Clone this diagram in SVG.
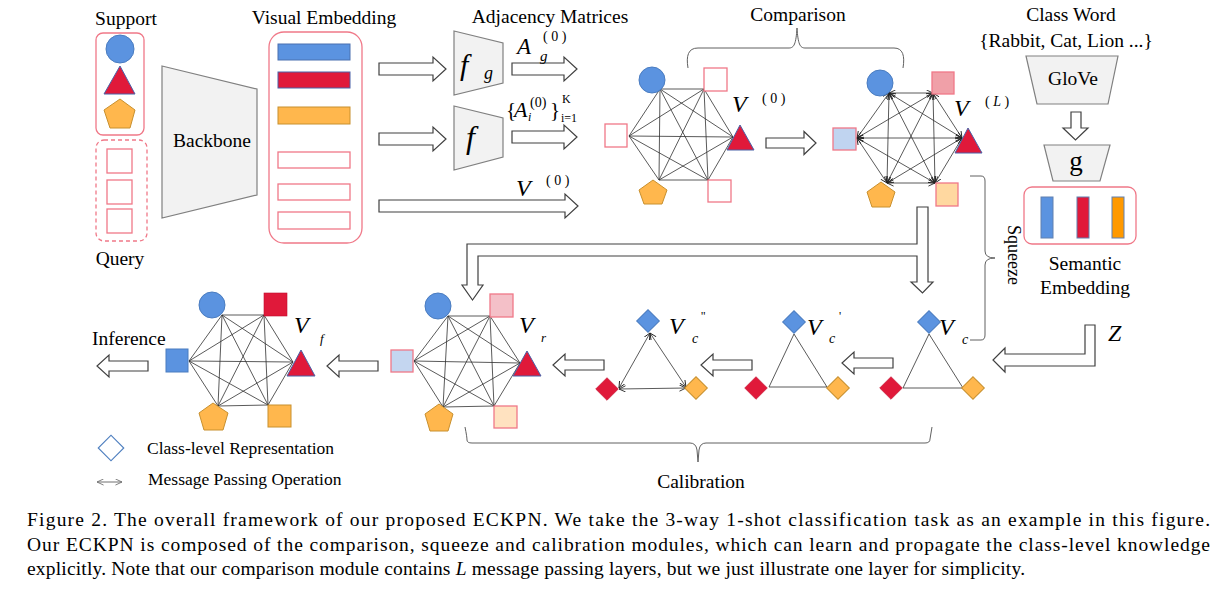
<svg xmlns="http://www.w3.org/2000/svg" width="1232" height="594" viewBox="0 0 1232 594">
<defs>
<style>
text{font-family:"Liberation Serif","Times New Roman",serif;fill:#000}
.lb{font-size:19.5px}
.it{font-style:italic}
.cap{font-size:19.5px}
.pk{fill:#fff;stroke:#f07888;stroke-width:1.3}
.pkd{fill:none;stroke:#f07888;stroke-width:1.3;stroke-dasharray:4 3}
.trap{fill:#f2f2f2;stroke:#808080;stroke-width:1.2}
.ba{fill:#fff;stroke:#404040;stroke-width:1.2}
.ed{stroke:#303030;stroke-width:0.8;fill:none}
.eda{stroke:#303030;stroke-width:0.8;fill:none;marker-start:url(#ah);marker-end:url(#ah)}
.br{fill:none;stroke:#606060;stroke-width:1}
.bl{fill:#5b93e0;stroke:#4a7cc0;stroke-width:1}
.rd{fill:#e0193a;stroke:#4a62a8;stroke-width:1}
.or{fill:#ffb74d;stroke:#c8902e;stroke-width:1}
.rdd{fill:#e0193a;stroke:#c01030;stroke-width:0.6}
</style>
<marker id="ah" viewBox="0 0 8 8" refX="7.5" refY="4" markerWidth="7" markerHeight="7" markerUnits="userSpaceOnUse" orient="auto-start-reverse">
<path d="M0,0.5 L7.5,4 L0,7.5" fill="none" stroke="#202020" stroke-width="1"/>
</marker>
<marker id="ahg" viewBox="0 0 8 8" refX="7.5" refY="4" markerWidth="7" markerHeight="7" markerUnits="userSpaceOnUse" orient="auto-start-reverse">
<path d="M0,0.5 L7.5,4 L0,7.5" fill="none" stroke="#707070" stroke-width="1"/>
</marker>
</defs>
<rect width="1232" height="594" fill="#fff"/>

<!-- connectors -->
<g id="connectors">
<path class="ba" d="M379,63 H433 V57 L446,69 L433,81 V75 H379 Z"/>
<path class="ba" d="M379,133 H433 V127 L446,139 L433,151 V145 H379 Z"/>
<path class="ba" d="M379,200 H565 V194 L578,206 L565,218 V212 H379 Z"/>
<path class="ba" d="M512,63 H564 V57 L577,69 L564,81 V75 H512 Z"/>
<path class="ba" d="M512,131 H564 V125 L577,137 L564,149 V143 H512 Z"/>
<path class="ba" d="M766,138 H804 V131.5 L816,143 L804,154.5 V148 H766 Z"/>
<path class="ba" d="M1071,112 H1081 V128 H1088 L1075.5,140 L1063,128 H1071 Z"/>
<path class="ba" d="M917,207 H928 V282 H933 L922.5,293 L911,282 H917 V256 H478 V285 H483 L472.5,300 L462,285 H467 V244 H917 Z"/>
<path class="ba" d="M1085,325 H1095 V366 H1005 V372 L993,360 L1005,348 V354 H1085 Z"/>
<path class="ba" d="M893,358 H854 V352 L842,363 L854,374 V368 H893 Z"/>
<path class="ba" d="M752,360 H713 V354 L701,365 L713,376 V370 H752 Z"/>
<path class="ba" d="M604,360 H565 V354 L553,365 L565,376 V370 H604 Z"/>
<path class="ba" d="M378,361 H339 V355 L327,366 L339,377 V371 H378 Z"/>
<path class="ba" d="M148,361 H109 V355 L97,366 L109,377 V371 H148 Z"/>

<path class="br" d="M688,68 C686,56 688,48 698,48 H789 C794,48 796,44 797,28 C798,44 800,48 805,48 H894 C903,48 905,56 903,68"/>
<path class="br" d="M970,176 H981 Q985,176 985,181 V251 Q985,258 995,258 Q985,258 985,265 V335 Q985,340 981,340 H970"/>
<path class="br" d="M465,427 Q467,437 467,440 Q467,443 472,443 H690 Q696,443 697,450 L698,462 L699,450 Q700,443 706,443 H925 Q930,443 930,439 L932,427"/>

<path class="ed" d="M660,89 L704,89 M660,89 L733,137 M660,89 L708,180 M660,89 L659,180 M660,89 L629,136 M704,89 L733,137 M704,89 L708,180 M704,89 L659,180 M704,89 L629,136 M733,137 L708,180 M733,137 L659,180 M733,137 L629,136 M708,180 L659,180 M708,180 L629,136 M659,180 L629,136"/>

<line class="eda" x1="889" y1="93" x2="933" y2="93"/>
<line class="eda" x1="889" y1="93" x2="962" y2="138"/>
<line class="eda" x1="889" y1="93" x2="935" y2="183"/>
<line class="eda" x1="889" y1="93" x2="887" y2="183"/>
<line class="eda" x1="889" y1="93" x2="857" y2="138"/>
<line class="eda" x1="933" y1="93" x2="962" y2="138"/>
<line class="eda" x1="933" y1="93" x2="935" y2="183"/>
<line class="eda" x1="933" y1="93" x2="887" y2="183"/>
<line class="eda" x1="933" y1="93" x2="857" y2="138"/>
<line class="eda" x1="962" y1="138" x2="935" y2="183"/>
<line class="eda" x1="962" y1="138" x2="887" y2="183"/>
<line class="eda" x1="962" y1="138" x2="857" y2="138"/>
<line class="eda" x1="935" y1="183" x2="887" y2="183"/>
<line class="eda" x1="935" y1="183" x2="857" y2="138"/>
<line class="eda" x1="887" y1="183" x2="857" y2="138"/>

<path class="ed" d="M448,316 L490,316 M448,316 L520,363 M448,316 L494,406 M448,316 L443,407 M448,316 L414,361 M490,316 L520,363 M490,316 L494,406 M490,316 L443,407 M490,316 L414,361 M520,363 L494,406 M520,363 L443,407 M520,363 L414,361 M494,406 L443,407 M494,406 L414,361 M443,407 L414,361"/>

<path class="ed" d="M222,315 L264,315 M222,315 L293,362 M222,315 L268,405 M222,315 L218,406 M222,315 L189,361 M264,315 L293,362 M264,315 L268,405 M264,315 L218,406 M264,315 L189,361 M293,362 L268,405 M293,362 L218,406 M293,362 L189,361 M268,405 L218,406 M268,405 L189,361 M218,406 L189,361"/>

<path class="ed" d="M929,334 L903,388 H963 Z"/>
<path class="ed" d="M794,334 L769,387 H827 Z"/>
<line class="eda" x1="650" y1="333" x2="619" y2="388"/>
<line class="eda" x1="650" y1="333" x2="686" y2="387"/>
<line class="eda" x1="619" y1="389" x2="686" y2="388"/>

<line x1="97" y1="482" x2="122" y2="482" stroke="#707070" stroke-width="1" marker-start="url(#ahg)" marker-end="url(#ahg)"/>
</g>

<g id="support">
<text class="lb" x="126" y="25" text-anchor="middle">Support</text>
<rect class="pk" x="96" y="33" width="48" height="102" rx="7"/>
<circle class="bl" cx="120" cy="49" r="14"/>
<polygon class="rd" points="120,66 104,94 135,94"/>
<polygon class="or" points="120,99 135,110 130,128 110,128 104,110"/>
</g>

<g id="query">
<rect class="pkd" x="96" y="140" width="51" height="101" rx="8"/>
<rect class="pk" x="107" y="149" width="25" height="24"/>
<rect class="pk" x="107" y="180" width="25" height="24"/>
<rect class="pk" x="107" y="209" width="25" height="24"/>
<text class="lb" x="120" y="265" text-anchor="middle">Query</text>
</g>

<g id="backbone">
<polygon class="trap" points="162,66 257,89 257,195 162,218"/>
<text class="lb" x="212" y="147" text-anchor="middle">Backbone</text>
</g>

<g id="visual-embedding">
<text class="lb" x="324" y="24" text-anchor="middle">Visual Embedding</text>
<rect class="pk" x="269" y="32" width="93" height="211" rx="15"/>
<rect x="278" y="44" width="72" height="16" fill="#5b93e0" stroke="#4a70b0" stroke-width="1"/>
<rect x="278" y="72" width="72" height="16" fill="#e0193a" stroke="#4a62a8" stroke-width="1"/>
<rect x="278" y="107" width="72" height="17" fill="#ffb74d" stroke="#c8902e" stroke-width="1"/>
<rect class="pk" x="278" y="152" width="72" height="16"/>
<rect class="pk" x="278" y="184" width="72" height="16"/>
<rect class="pk" x="278" y="212" width="72" height="17"/>
</g>

<g id="adjacency">
<text class="lb" x="550" y="23" text-anchor="middle">Adjacency Matrices</text>
<polygon class="trap" points="454,31 503,43 503,83 454,95"/>
<text class="it" x="460" y="75" font-size="30">f</text>
<text class="it" x="484" y="79" font-size="18">g</text>
<polygon class="trap" points="454,106 503,118 503,157 454,170"/>
<text class="it" x="466" y="148" font-size="32">f</text>
<text class="it" x="517" y="54" font-size="23">A</text>
<text class="it" x="540" y="61" font-size="15">g</text>
<text x="543" y="41" font-size="14">( 0 )</text>
<text x="506" y="117" font-size="21">{</text>
<text class="it" x="514" y="117" font-size="22">A</text>
<text x="530" y="107" font-size="14">(0)</text>
<text class="it" x="528" y="121" font-size="12">i</text>
<text x="550" y="117" font-size="21">}</text>
<text x="562" y="103" font-size="12">K</text>
<text x="561" y="122" font-size="12">i=1</text>
<text class="it" x="516" y="196" font-size="24">V</text>
<text x="546" y="185" font-size="14">( 0 )</text>
</g>

<g id="comparison">
<text class="lb" x="798" y="21" text-anchor="middle">Comparison</text>
</g>

<g id="graph-v0">
<circle class="bl" cx="652" cy="80" r="13"/>
<rect class="pk" x="704" y="68" width="23" height="23"/>
<rect class="pk" x="605" y="124" width="22" height="23"/>
<polygon class="rd" points="740,125 727,150 754,150"/>
<polygon class="or" points="653,180 667,190 662,204 644,204 639,190"/>
<rect class="pk" x="708" y="180" width="23" height="22"/>
<text class="it" x="732" y="112" font-size="24">V</text>
<text x="762" y="103" font-size="14">( 0 )</text>
</g>

<g id="graph-vL">
<circle class="bl" cx="880" cy="83" r="13"/>
<rect class="pk" x="932" y="72" width="22" height="22" style="fill:#f0a0a8"/>
<rect class="pk" x="833" y="128" width="23" height="22" style="fill:#c0d4f0"/>
<polygon class="rd" points="968,128 955,153 982,153"/>
<polygon class="or" points="881,182 895,192 890,207 872,207 867,192"/>
<rect class="pk" x="936" y="183" width="22" height="23" style="fill:#ffd8a0"/>
<text class="it" x="954" y="116" font-size="24">V</text>
<text x="985" y="106" font-size="14">( <tspan class="it">L</tspan> )</text>
</g>

<g id="class-word">
<text class="lb" x="1071" y="21" text-anchor="middle">Class Word</text>
<text class="lb" x="1066" y="47" text-anchor="middle">{Rabbit, Cat, Lion ...}</text>
</g>
<g id="glove">
<polygon class="trap" points="1026,56 1118,56 1108,104 1037,104"/>
<text class="lb" x="1073" y="85" text-anchor="middle">GloVe</text>
</g>
<g id="g-net">
<polygon class="trap" points="1044,145 1110,145 1100,181 1053,181"/>
<text x="1076" y="170" font-size="27" text-anchor="middle">g</text>
</g>
<g id="semantic-embedding">
<rect class="pk" x="1024" y="187" width="112" height="57" rx="8"/>
<rect x="1041" y="197" width="12" height="41" fill="#5b93e0" stroke="#6080b0" stroke-width="1"/>
<rect x="1077" y="197" width="12" height="41" fill="#e0193a" stroke="#6080b0" stroke-width="1"/>
<rect x="1112" y="197" width="12" height="41" fill="#ff9900" stroke="#6080b0" stroke-width="1"/>
<text class="lb" x="1085" y="270" text-anchor="middle">Semantic</text>
<text class="lb" x="1085" y="294" text-anchor="middle">Embedding</text>
</g>
<g id="squeeze">
<text x="0" y="0" font-size="18" text-anchor="middle" transform="translate(1008,255) rotate(90)">Squeeze</text>
</g>
<g id="z-label">
<text class="it" x="1108" y="341" font-size="24">Z</text>
</g>

<g id="graph-vc">
<rect x="921" y="314" width="16" height="16" class="bl" transform="rotate(45 929 322)"/>
<rect x="883" y="380" width="16" height="16" class="rdd" transform="rotate(45 891 388)"/>
<rect x="965" y="380" width="16" height="16" class="or" transform="rotate(45 973 388)"/>
<text class="it" x="939" y="335" font-size="24">V</text>
<text class="it" x="962" y="344" font-size="14">c</text>
</g>
<g id="graph-vc1">
<rect x="786" y="314" width="16" height="16" class="bl" transform="rotate(45 794 322)"/>
<rect x="748" y="380" width="16" height="16" class="rdd" transform="rotate(45 756 388)"/>
<rect x="830" y="380" width="16" height="16" class="or" transform="rotate(45 838 388)"/>
<text class="it" x="807" y="335" font-size="24">V</text>
<text class="it" x="829" y="343" font-size="14">c</text>
<text x="839" y="320" font-size="12">'</text>
</g>
<g id="graph-vc2">
<rect x="640" y="313" width="16" height="16" class="bl" transform="rotate(45 648 321)"/>
<rect x="599" y="381" width="16" height="16" class="rdd" transform="rotate(45 607 389)"/>
<rect x="688" y="380" width="16" height="16" class="or" transform="rotate(45 696 388)"/>
<text class="it" x="669" y="334" font-size="24">V</text>
<text class="it" x="692" y="343" font-size="14">c</text>
<text x="701" y="320" font-size="12">''</text>
</g>
<g id="graph-vr">
<circle class="bl" cx="438" cy="306" r="13"/>
<rect class="pk" x="490" y="294" width="23" height="23" style="fill:#f4c0c8"/>
<rect class="pk" x="391" y="350" width="22" height="22" style="fill:#c4d6f0"/>
<polygon class="rd" points="527,351 513,376 541,376"/>
<polygon class="or" points="439,404 453,414 448,431 430,431 425,414"/>
<rect class="pk" x="494" y="406" width="23" height="22" style="fill:#ffe2c0"/>
<text class="it" x="519" y="333" font-size="24">V</text>
<text class="it" x="541" y="342" font-size="13">r</text>
</g>
<g id="graph-vf">
<circle class="bl" cx="212" cy="305" r="13"/>
<rect x="264" y="293" width="23" height="23" fill="#e0193a" stroke="#c01030" stroke-width="0.6"/>
<rect x="166" y="349" width="22" height="23" class="bl"/>
<polygon class="rd" points="301,350 287,376 315,376"/>
<polygon class="or" points="213,403 228,413 223,430 204,430 199,413"/>
<rect x="268" y="405" width="23" height="22" class="or"/>
<text class="it" x="294" y="333" font-size="24">V</text>
<text class="it" x="320" y="343" font-size="13">f</text>
</g>
<g id="inference">
<text class="lb" x="92" y="345">Inference</text>
</g>
<g id="calibration-label">
<text class="lb" x="701" y="488" text-anchor="middle">Calibration</text>
</g>

<g id="legend">
<rect x="102" y="439" width="18" height="18" fill="#fff" stroke="#5080c0" stroke-width="1.2" transform="rotate(45 111 448)"/>
<text x="147" y="454" font-size="17.5">Class-level Representation</text>
<text x="148" y="485" font-size="17.5">Message Passing Operation</text>
</g>

<g id="caption">
<text class="cap" x="27" y="526" textLength="1183" lengthAdjust="spacing">Figure 2. The overall framework of our proposed ECKPN. We take the 3-way 1-shot classification task as an example in this figure.</text>
<text class="cap" x="27" y="551" textLength="1183" lengthAdjust="spacing">Our ECKPN is composed of the comparison, squeeze and calibration modules, which can learn and propagate the class-level knowledge</text>
<text class="cap" x="27" y="575" textLength="998" lengthAdjust="spacing">explicitly. Note that our comparison module contains <tspan class="it">L</tspan> message passing layers, but we just illustrate one layer for simplicity.</text>
</g>
</svg>
